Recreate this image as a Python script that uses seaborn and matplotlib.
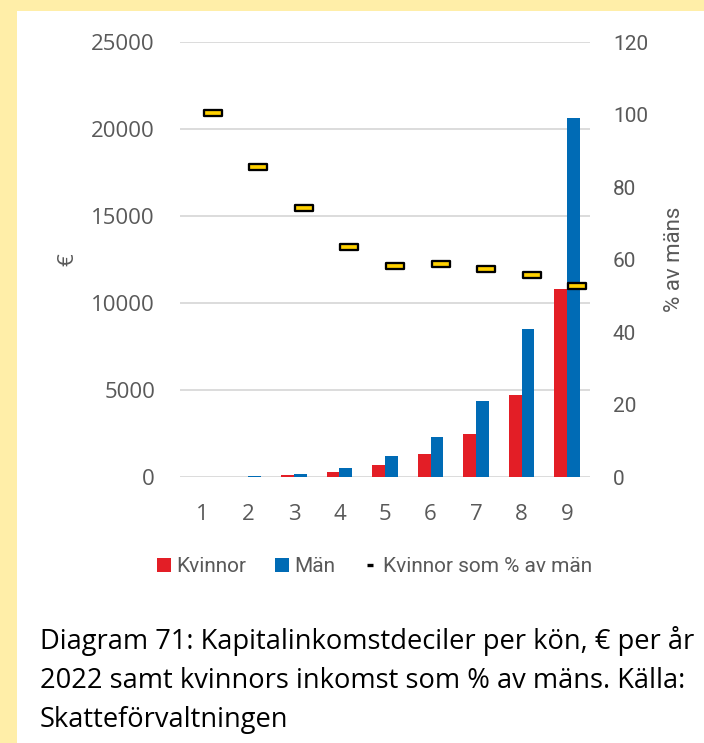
import numpy as np
import pandas as pd
import matplotlib
matplotlib.use("Agg")
import matplotlib.pyplot as plt
from matplotlib.patches import Rectangle, Patch
from matplotlib.lines import Line2D
from matplotlib.path import Path
import seaborn as sns

# Capital income deciles by gender, EUR per year 2022
deciles = ["1", "2", "3", "4", "5", "6", "7", "8", "9"]
kvinnor = [15, 30, 145, 340, 690, 1370, 2515, 4740, 10800]
man = [20, 70, 200, 545, 1220, 2310, 4390, 8540, 20640]
# Women's income as % of men's
kvinnor_pct = [100.5, 85.6, 74.3, 63.4, 58.3, 58.8, 57.5, 55.7, 52.8]

left_ticks = [0, 5000, 10000, 15000, 20000, 25000]
right_ticks = [0, 20, 40, 60, 80, 100, 120]
series_names = ["Kvinnor", "Män", "Kvinnor som % av män"]
caption_lines = [
    "Diagram 71: Kapitalinkomstdeciler per kön, € per år",
    "2022 samt kvinnors inkomst som % av mäns. Källa:",
    "Skatteförvaltningen",
]

RED = "#E31E26"
BLUE = "#006BB5"
GOLD = "#FFD100"
GRID = "#D9D9D9"
TXT = "#595959"
BG = "#FFEEA8"

df = pd.DataFrame({
    "decil": deciles * 2,
    "kön": [series_names[0]] * len(deciles) + [series_names[1]] * len(deciles),
    "värde": kvinnor + man,
})

sns.set_theme(style="white")
plt.rcParams["font.family"] = ["Open Sans", "DejaVu Sans"]

W, H = 704, 743
fig = plt.figure(figsize=(W / 100, H / 100), dpi=100, facecolor=BG)
fig.patches.append(Rectangle((17 / W, 0), 1, 1 - 11 / H, transform=fig.transFigure,
                             facecolor="white", edgecolor="none", zorder=-10))

ax = fig.add_axes([180 / W, 1 - 477.5 / H, 410 / W, 435.5 / H])
ax.set_facecolor("none")

sns.barplot(data=df, x="decil", y="värde", hue="kön", order=deciles,
            palette=[RED, BLUE], saturation=1, width=0.56, linewidth=0,
            legend=False, ax=ax)

ax.set_xlim(-0.5, 8.5)
ax.set_ylim(0, 25000)
ax.set_yticks(left_ticks)
ax.set_yticklabels([str(t) for t in left_ticks])
ax.grid(axis="y", color=GRID, linewidth=1.3)
ax.grid(axis="x", visible=False)
ax.set_axisbelow(True)
for s in ax.spines.values():
    s.set_visible(False)
ax.tick_params(axis="y", length=0, pad=18, labelsize=16, labelcolor=TXT)
ax.tick_params(axis="x", length=0, pad=19, labelsize=16, labelcolor=TXT)
ax.set_xlabel("")
ax.set_ylabel("€", fontsize=16, color=TXT, va="center", ha="center")
ax.yaxis.set_label_coords((68 - 180) / 410, 0.5)

ax2 = ax.twinx()
rect = Path([(-1, -0.35), (1, -0.35), (1, 0.35), (-1, 0.35), (-1, -0.35)],
            [Path.MOVETO, Path.LINETO, Path.LINETO, Path.LINETO, Path.CLOSEPOLY])
sns.scatterplot(x=np.arange(len(deciles)) + 0.22, y=kvinnor_pct, marker=rect,
                s=175, color=GOLD, edgecolor="black", linewidth=1.65,
                zorder=5, ax=ax2)
ax2.set_xlim(-0.5, 8.5)
ax2.set_ylim(0, 120)
ax2.set_yticks(right_ticks)
ax2.set_yticklabels([str(t) for t in right_ticks], fontfamily="Roboto")
for s in ax2.spines.values():
    s.set_visible(False)
ax2.grid(False)
ax2.tick_params(axis="y", length=0, pad=16.5, labelsize=15, labelcolor=TXT)
ax2.set_ylabel("% av mäns", fontsize=16, color=TXT, fontfamily="Roboto",
               va="center", ha="center")
ax2.yaxis.set_label_coords((675 - 180) / 410, 0.5)

handles = [
    Patch(facecolor=RED, edgecolor="none"),
    Patch(facecolor=BLUE, edgecolor="none"),
    Line2D([0], [0], color="black", marker="_", linestyle="", markersize=5,
           markeredgewidth=2.4),
]
fig.legend(handles, series_names, loc="center", bbox_to_anchor=(374.5 / W, 1 - 567 / H),
           ncol=3, frameon=False, prop={"family": "Roboto", "size": 15},
           labelcolor=TXT, handlelength=0.68, handleheight=0.68,
           handletextpad=0.25, columnspacing=1.35, borderaxespad=0, borderpad=0)

for line, base in zip(caption_lines, [649.3, 688.3, 726.7]):
    fig.text(40 / W, 1 - base / H, line, fontsize=19.6, color="black",
             ha="left", va="baseline")

fig.savefig("out.png", dpi=100, facecolor=BG)
